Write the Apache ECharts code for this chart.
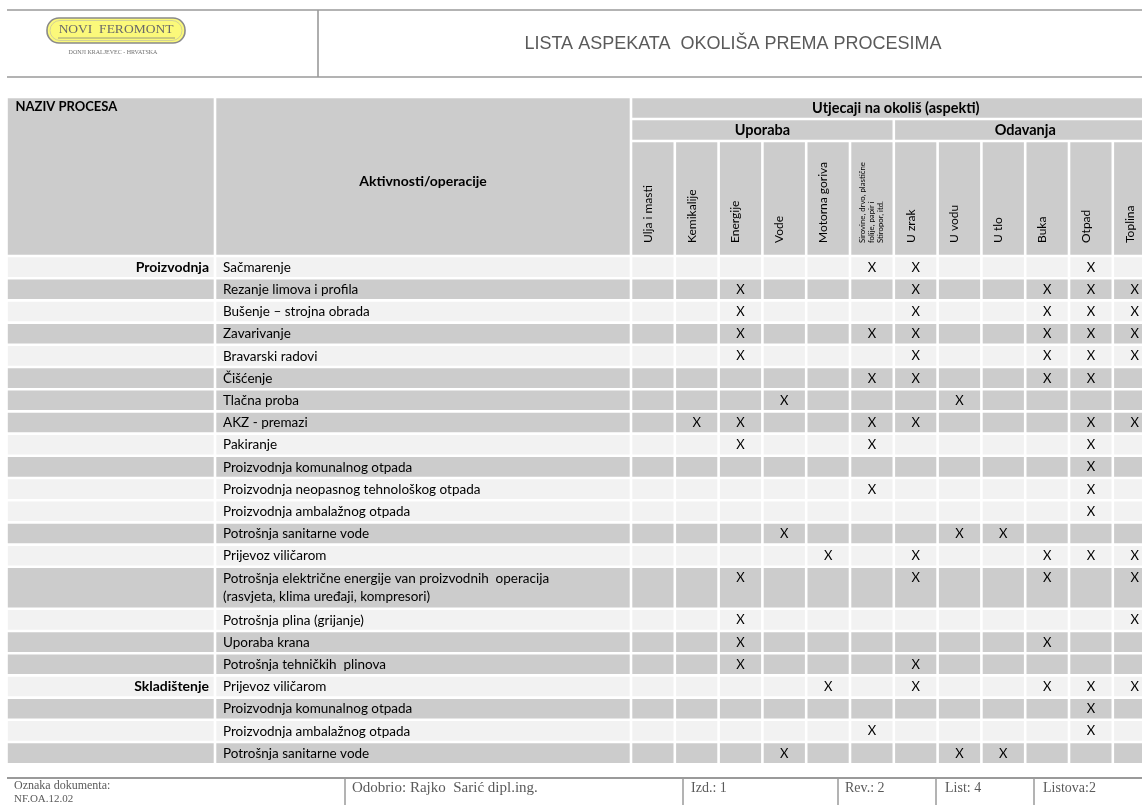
<!DOCTYPE html>
<html><head><meta charset="utf-8">
<script src="https://cdn.jsdelivr.net/npm/echarts@6/dist/echarts.min.js"></script>
<style>html,body{margin:0;padding:0;background:#fff}#c{width:1142px;height:805px}</style>
</head><body><div id="c"></div><script>
// ---------- data ----------
const processes = ['Proizvodnja', 'Skladištenje'];
const processStartRow = [0, 18];
const activities = [
  'Sačmarenje',
  'Rezanje limova i profila',
  'Bušenje – strojna obrada',
  'Zavarivanje',
  'Bravarski radovi',
  'Čišćenje',
  'Tlačna proba',
  'AKZ - premazi',
  'Pakiranje',
  'Proizvodnja komunalnog otpada',
  'Proizvodnja neopasnog tehnološkog otpada',
  'Proizvodnja ambalažnog otpada',
  'Potrošnja sanitarne vode',
  'Prijevoz viličarom',
  'Potrošnja električne energije van proizvodnih  operacija\n(rasvjeta, klima uređaji, kompresori)',
  'Potrošnja plina (grijanje)',
  'Uporaba krana',
  'Potrošnja tehničkih  plinova',
  'Prijevoz viličarom',
  'Proizvodnja komunalnog otpada',
  'Proizvodnja ambalažnog otpada',
  'Potrošnja sanitarne vode'
];
const topHeader = 'Utjecaji na okoliš (aspekti)';
const aspectGroups = ['Uporaba', 'Odavanja'];
const aspects = ['Ulja i masti', 'Kemikalije', 'Energije', 'Vode', 'Motorna goriva',
  'Sirovine, drvo, plastične\nfolije, papir i\nStiropor, itd.',
  'U zrak', 'U vodu', 'U tlo', 'Buka', 'Otpad', 'Toplina'];
const aspectGroupOf = [0,0,0,0,0,0,1,1,1,1,1,1];
const marks = [
  [0,0,0,0,0,1,1,0,0,0,1,0],
  [0,0,1,0,0,0,1,0,0,1,1,1],
  [0,0,1,0,0,0,1,0,0,1,1,1],
  [0,0,1,0,0,1,1,0,0,1,1,1],
  [0,0,1,0,0,0,1,0,0,1,1,1],
  [0,0,0,0,0,1,1,0,0,1,1,0],
  [0,0,0,1,0,0,0,1,0,0,0,0],
  [0,1,1,0,0,1,1,0,0,0,1,1],
  [0,0,1,0,0,1,0,0,0,0,1,0],
  [0,0,0,0,0,0,0,0,0,0,1,0],
  [0,0,0,0,0,1,0,0,0,0,1,0],
  [0,0,0,0,0,0,0,0,0,0,1,0],
  [0,0,0,1,0,0,0,1,1,0,0,0],
  [0,0,0,0,1,0,1,0,0,1,1,1],
  [0,0,1,0,0,0,1,0,0,1,0,1],
  [0,0,1,0,0,0,0,0,0,0,0,1],
  [0,0,1,0,0,0,0,0,0,1,0,0],
  [0,0,1,0,0,0,1,0,0,0,0,0],
  [0,0,0,0,1,0,1,0,0,1,1,1],
  [0,0,0,0,0,0,0,0,0,0,1,0],
  [0,0,0,0,0,1,0,0,0,0,1,0],
  [0,0,0,1,0,0,0,1,1,0,0,0]
];
const rowShade = [0,1,0,1,0,1,1,1,0,1,0,0,1,0,1,0,1,1,0,1,0,1];
const docTitle = 'LISTA ASPEKATA  OKOLIŠA PREMA PROCESIMA';
const footer = ['Oznaka dokumenta:', 'NF.OA.12.02', 'Odobrio: Rajko  Sarić dipl.ing.', 'Izd.: 1', 'Rev.: 2', 'List: 4', 'Listova:2'];

// ---------- layout / style ----------
const FONT = 'Lato, "Open Sans", sans-serif';
const SERIF = '"Liberation Serif", "DejaVu Serif", serif';
const DARK = '#cccccc', LIGHT = '#f2f2f2';
const L = {left: 6.5, top: 97, colW: [208.5, 416], aspectW: 43.8, headH: [22, 22, 115],
  rowH: 22.2, dblH: 42, lineStep: 18, gap: 2.6};

const colEdges = [0];
L.colW.forEach(w => colEdges.push(colEdges[colEdges.length - 1] + w));
aspects.forEach(() => colEdges.push(colEdges[colEdges.length - 1] + L.aspectW));
const rowEdges = [0];
L.headH.forEach(h => rowEdges.push(rowEdges[rowEdges.length - 1] + h));
activities.forEach(a => rowEdges.push(rowEdges[rowEdges.length - 1] + (a.indexOf('\n') >= 0 ? L.dblH : L.rowH)));
const XMAX = colEdges[colEdges.length - 1], YMAX = rowEdges[rowEdges.length - 1];
const NH = L.headH.length;

const cells = [];
function addCell(c0, c1, r0, r1, fill, texts) {
  cells.push({x0: colEdges[c0], x1: colEdges[c1], y0: rowEdges[r0], y1: rowEdges[r1], fill, texts});
}
// header
addCell(0, 1, 0, NH, DARK, [{t: 'NAZIV PROCESA', ax: 'l', ay: 't', dx: 9, dy: 10, align: 'left', weight: 'bold', size: 13}]);
addCell(1, 2, 0, NH, DARK, [{t: 'Aktivnosti/operacije', ax: 'c', ay: 'c', dx: 0, dy: 5, align: 'center', weight: 'bold', size: 14}]);
addCell(2, 2 + aspects.length, 0, 1, DARK, [{t: topHeader, ax: 'c', ay: 'c', dx: 2, dy: 0, align: 'center', weight: 'bold', size: 14.5}]);
aspectGroups.forEach((g, gi) => {
  const idx = aspectGroupOf.map((v, i) => v === gi ? i : -1).filter(i => i >= 0);
  addCell(2 + idx[0], 3 + idx[idx.length - 1], 1, 2, DARK, [{t: g, ax: 'c', ay: 'c', dx: 0, dy: 0, align: 'center', weight: 'bold', size: 14.5}]);
});
aspects.forEach((a, i) => {
  const multi = a.indexOf('\n') >= 0;
  addCell(2 + i, 3 + i, 2, 3, DARK, [{t: a, ax: 'c', ay: 'b', dx: multi ? 0 : -5, dy: -13, align: 'left', rot: true,
    size: multi ? 7.8 : 12, lh: multi ? 9 : undefined}]);
});
// body
activities.forEach((a, r) => {
  const fill = rowShade[r] ? DARK : LIGHT;
  const pi = processStartRow.indexOf(r);
  addCell(0, 1, NH + r, NH + r + 1, fill, pi >= 0 ? [{t: processes[pi], ax: 'r', ay: 't', dx: -6, dy: 11.5, align: 'right', weight: 'bold', size: 14}] : []);
  addCell(1, 2, NH + r, NH + r + 1, fill, a.split('\n').map((ln, k) => ({t: ln, ax: 'l', ay: 't', dx: 8, dy: 11.5 + k * L.lineStep, align: 'left', size: 13.5})));
  marks[r].forEach((m, i) => {
    addCell(2 + i, 3 + i, NH + r, NH + r + 1, fill, m ? [{t: 'X', ax: 'c', ay: 't', dx: 0, dy: 11.5, align: 'center', size: 13}] : []);
  });
});

function renderItem(params, api) {
  const c = cells[params.dataIndex];
  const p0 = api.coord([api.value(0), api.value(1)]);
  const p1 = api.coord([api.value(2), api.value(3)]);
  const g = L.gap / 2;
  const children = [{type: 'rect', shape: {x: p0[0] + g, y: p0[1] + g, width: p1[0] - p0[0] - 2 * g, height: p1[1] - p0[1] - 2 * g},
    style: {fill: c.fill}}];
  c.texts.forEach(d => {
    const x = (d.ax === 'l' ? p0[0] : d.ax === 'r' ? p1[0] : (p0[0] + p1[0]) / 2) + (d.dx || 0);
    const y = (d.ay === 't' ? p0[1] : d.ay === 'b' ? p1[1] : (p0[1] + p1[1]) / 2) + (d.dy || 0);
    const st = {text: d.t, fill: '#000', fontFamily: FONT, fontSize: d.size, fontWeight: d.weight || 'normal',
      align: d.align, verticalAlign: 'middle'};
    if (d.lh) st.lineHeight = d.lh;
    children.push({type: 'text', x: x, y: y, rotation: d.rot ? Math.PI / 2 : 0, style: st});
  });
  return {type: 'group', children};
}

const gray = '#9a9a9a', tgray = '#5a5a5a';
const graphic = [
  // header frame
  {type: 'line', shape: {x1: 7, y1: 10, x2: 1142, y2: 10}, style: {stroke: gray, lineWidth: 1.6}},
  {type: 'line', shape: {x1: 7, y1: 77, x2: 1142, y2: 77}, style: {stroke: gray, lineWidth: 1.6}},
  {type: 'line', shape: {x1: 318, y1: 10, x2: 318, y2: 77}, style: {stroke: gray, lineWidth: 1.6}},
  {type: 'text', x: 733, y: 44, style: {text: docTitle, fill: tgray, font: '18px "Liberation Sans", Arial, sans-serif', align: 'center', verticalAlign: 'middle'}},
  // logo
  {type: 'rect', shape: {x: 47, y: 18, width: 138, height: 25, r: 12}, style: {fill: '#fbf97a', stroke: '#8a8a8a', lineWidth: 1.6}},
  {type: 'rect', shape: {x: 50, y: 20.5, width: 132, height: 20, r: 10}, style: {fill: 'none', stroke: '#c8c8a0', lineWidth: 0.8}},
  {type: 'text', x: 116, y: 29, style: {text: 'NOVI  FEROMONT', fill: '#6a6a6a', font: '13.5px ' + SERIF, align: 'center', verticalAlign: 'middle'}},
  {type: 'line', shape: {x1: 58, y1: 38, x2: 175, y2: 38}, style: {stroke: '#9a9a80', lineWidth: 1}},
  {type: 'text', x: 113, y: 52, style: {text: 'DONJI KRALJEVEC - HRVATSKA', fill: '#707070', font: '6px ' + SERIF, align: 'center', verticalAlign: 'middle'}},
  // cursor mark
  {type: 'line', shape: {x1: 15, y1: 101, x2: 15, y2: 115}, style: {stroke: '#333', lineWidth: 1}},
  // footer
  {type: 'line', shape: {x1: 7, y1: 778, x2: 1142, y2: 778}, style: {stroke: gray, lineWidth: 2}},
  ...[345, 683, 838, 936, 1034].map(x => ({type: 'line', shape: {x1: x, y1: 778, x2: x, y2: 805}, style: {stroke: gray, lineWidth: 1.5}})),
  {type: 'text', x: 14, y: 786, style: {text: footer[0], fill: tgray, font: '12px ' + SERIF, verticalAlign: 'middle'}},
  {type: 'text', x: 14, y: 799, style: {text: footer[1], fill: tgray, font: '11px ' + SERIF, verticalAlign: 'middle'}},
  {type: 'text', x: 352, y: 788, style: {text: footer[2], fill: tgray, font: '15px ' + SERIF, verticalAlign: 'middle'}},
  {type: 'text', x: 691, y: 788, style: {text: footer[3], fill: tgray, font: '14px ' + SERIF, verticalAlign: 'middle'}},
  {type: 'text', x: 845, y: 788, style: {text: footer[4], fill: tgray, font: '14px ' + SERIF, verticalAlign: 'middle'}},
  {type: 'text', x: 945, y: 788, style: {text: footer[5], fill: tgray, font: '14px ' + SERIF, verticalAlign: 'middle'}},
  {type: 'text', x: 1043, y: 788, style: {text: footer[6], fill: tgray, font: '14px ' + SERIF, verticalAlign: 'middle'}}
];

const chart = echarts.init(document.getElementById('c'));
chart.setOption({
  animation: false,
  backgroundColor: '#fff',
  grid: {left: L.left, top: L.top, width: XMAX, height: YMAX, outerBoundsMode: 'none'},
  xAxis: {type: 'value', min: 0, max: XMAX, show: false},
  yAxis: {type: 'value', min: 0, max: YMAX, inverse: true, show: false},
  graphic: graphic,
  series: [{
    type: 'custom',
    renderItem: renderItem,
    encode: {x: [0, 2], y: [1, 3]},
    data: cells.map(c => [c.x0, c.y0, c.x1, c.y1]),
    silent: true
  }]
});
</script></body></html>
